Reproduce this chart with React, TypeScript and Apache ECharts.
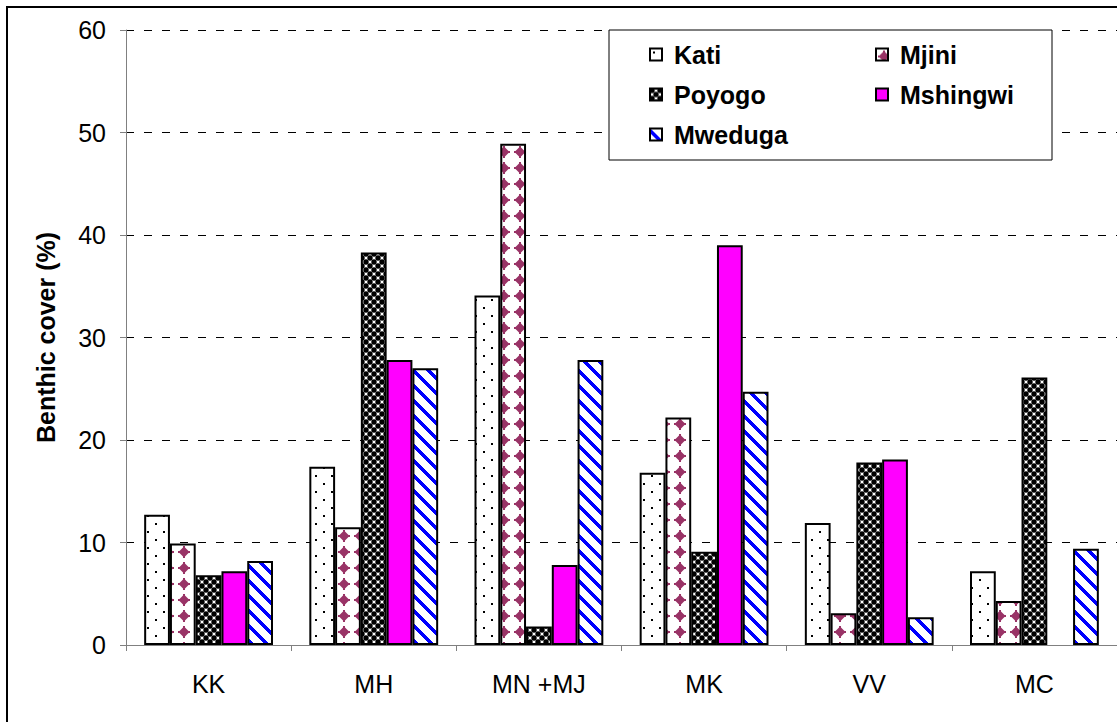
import React, { useEffect, useRef } from 'react';
import * as echarts from 'echarts';

const categories = ['KK', 'MH', 'MN +MJ', 'MK', 'VV', 'MC'];
const seriesNames = ['Kati', 'Mjini', 'Poyogo', 'Mshingwi', 'Mweduga'];
const kati = [12.7, 17.4, 34.1, 16.8, 11.9, 7.2];
const mjini = [9.9, 11.5, 48.9, 22.2, 3.1, 4.3];
const poyogo = [6.8, 38.3, 1.8, 9.1, 17.8, 26.1];
const mshingwi = [7.2, 27.8, 7.8, 39.0, 18.1, null];
const mweduga = [8.2, 27.0, 27.8, 24.7, 2.7, 9.4];
const yTicks = { min: 0, max: 60, interval: 10 };

const FONT = '"Liberation Sans", Arial, sans-serif';

function makeCanvas(w: number, h: number, draw: (ctx: CanvasRenderingContext2D) => void) {
  const c = document.createElement('canvas');
  c.width = w;
  c.height = h;
  const ctx = c.getContext('2d') as CanvasRenderingContext2D;
  ctx.fillStyle = '#ffffff';
  ctx.fillRect(0, 0, w, h);
  draw(ctx);
  return c;
}

function buildPatterns() {
  const dots = makeCanvas(16, 16, (ctx) => {
    ctx.fillStyle = '#000';
    ctx.fillRect(3, 3, 2, 2);
    ctx.fillRect(11, 11, 2, 2);
  });
  const diamonds = makeCanvas(16, 16, (ctx) => {
    ctx.fillStyle = '#993366';
    ctx.beginPath();
    ctx.moveTo(8, 2.5);
    ctx.lineTo(13.5, 8);
    ctx.lineTo(8, 13.5);
    ctx.lineTo(2.5, 8);
    ctx.closePath();
    ctx.fill();
    ctx.fillRect(7, 2, 2, 12);
    ctx.fillRect(2, 7, 12, 2);
  });
  const checker = makeCanvas(8, 8, (ctx) => {
    ctx.fillStyle = '#000';
    for (let i = -1; i <= 1; i++) {
      for (let j = -1; j <= 1; j++) {
        ctx.beginPath();
        ctx.arc(2 + 8 * i, 2 + 8 * j, 2.7, 0, Math.PI * 2);
        ctx.fill();
        ctx.beginPath();
        ctx.arc(6 + 8 * i, 6 + 8 * j, 2.7, 0, Math.PI * 2);
        ctx.fill();
      }
    }
  });
  const stripes = makeCanvas(15, 15, (ctx) => {
    ctx.fillStyle = '#0000ff';
    for (let y = 0; y < 15; y++) {
      for (let x = 0; x < 15; x++) {
        if ((((y - x) % 15) + 15) % 15 < 5) ctx.fillRect(x, y, 1, 1);
      }
    }
  });
  return [
    { image: dots, repeat: 'repeat' },
    { image: diamonds, repeat: 'repeat' },
    { image: checker, repeat: 'repeat' },
    '#ff00ff',
    { image: stripes, repeat: 'repeat' },
  ];
}

export default function App() {
  const ref = useRef<HTMLDivElement>(null);
  useEffect(() => {
    document.body.style.margin = '0';
    if (!ref.current) return;
    const chart = echarts.init(ref.current, null, { renderer: 'svg' });
    const fills = buildPatterns();
    const values = [kati, mjini, poyogo, mshingwi, mweduga];
    const series = seriesNames.map((name, i) => ({
      name,
      type: 'bar',
      data: values[i],
      barGap: '0%',
      barCategoryGap: '22%',
      itemStyle: { color: fills[i] as any, borderColor: '#000', borderWidth: 2 },
    }));
    const legendCommon = {
      orient: 'vertical',
      padding: 0,
      itemWidth: 12,
      itemHeight: 12,
      itemGap: 15,
      icon: 'rect',
      z: 10,
      textStyle: { fontFamily: FONT, fontSize: 25, fontWeight: 'bold', color: '#000', padding: [0, 0, 0, 7] },
      selectedMode: false,
    };
    const option: any = {
      animation: false,
      backgroundColor: '#ffffff',
      textStyle: { fontFamily: FONT },
      grid: { left: 126, top: 30, width: 1002, height: 615, containLabel: false },
      xAxis: {
        type: 'category',
        data: categories,
        boundaryGap: true,
        axisLine: { lineStyle: { color: '#808080', width: 1 } },
        axisTick: { show: true, length: 6, lineStyle: { color: '#808080' } },
        axisLabel: { color: '#000', fontSize: 25, margin: 26, fontFamily: FONT },
        splitLine: { show: false },
      },
      yAxis: {
        type: 'value',
        min: yTicks.min,
        max: yTicks.max,
        interval: yTicks.interval,
        name: 'Benthic cover (%)',
        nameLocation: 'middle',
        nameGap: 68,
        nameTextStyle: { fontWeight: 'bold', fontSize: 25, color: '#000', fontFamily: FONT },
        axisLine: { show: true, lineStyle: { color: '#808080', width: 1 } },
        axisTick: { show: true, inside: false, length: 6, lineStyle: { color: '#808080' } },
        axisLabel: { color: '#000', fontSize: 25, margin: 20, fontFamily: FONT },
        splitLine: { show: true, lineStyle: { color: '#000', type: [8, 10], width: 1 } },
      },
      legend: [
        { ...legendCommon, data: ['Kati', 'Poyogo', 'Mweduga'], left: 649, top: 42 },
        { ...legendCommon, data: ['Mjini', 'Mshingwi'], left: 875, top: 42 },
      ],
      graphic: [
        {
          type: 'rect',
          z: 100,
          silent: true,
          shape: { x: 7, y: 7, width: 1300, height: 900 },
          style: { fill: 'none', stroke: '#000', lineWidth: 2 },
        },
        {
          type: 'rect',
          z: 3,
          silent: true,
          shape: { x: 609, y: 30, width: 443, height: 130 },
          style: { fill: '#fff', stroke: '#000', lineWidth: 1 },
        },
      ],
      series,
    };
    chart.setOption(option);
    return () => chart.dispose();
  }, []);
  return <div ref={ref} style={{ width: 1117, height: 722 }} />;
}
